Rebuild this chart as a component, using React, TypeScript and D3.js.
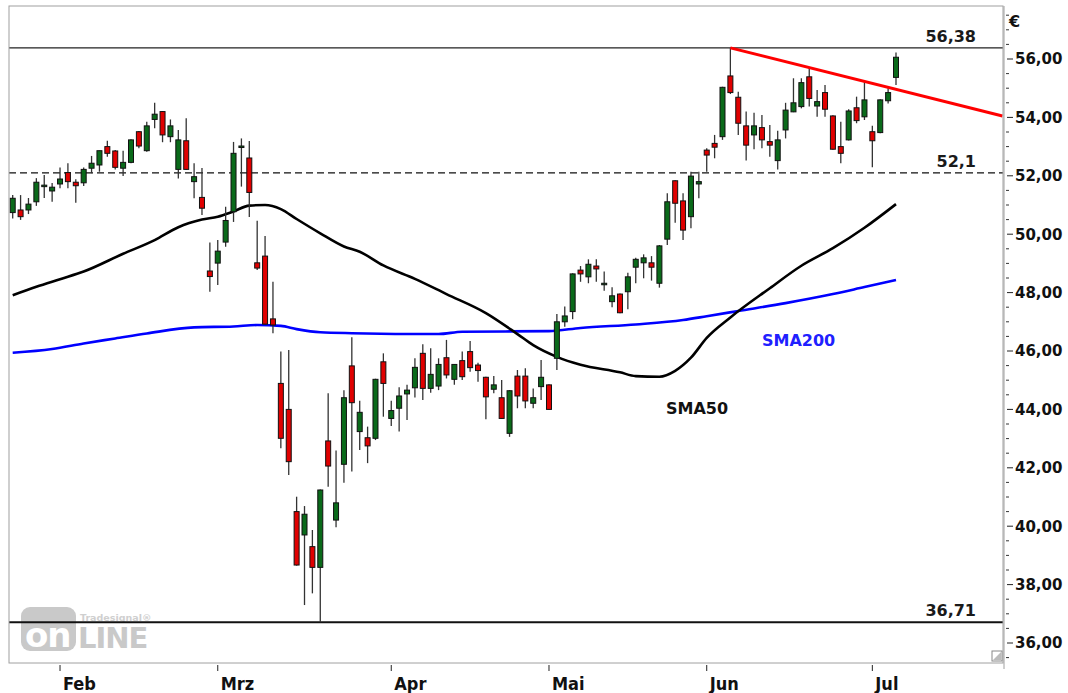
import React from "react";
import * as d3 from "d3";

// ---- Data ----
const opens = [
  50.74, 50.83, 50.83, 51.11, 51.63, 51.48, 51.72, 52.11, 51.78, 51.76,
  52.26, 52.37, 53.0, 52.85, 52.26, 52.46, 53.51, 52.86, 53.93, 54.2,
  53.34, 52.22, 53.2, 51.8, 51.26, 48.74, 49.01, 49.73, 50.77, 52.97,
  52.61, 49.02, 49.25, 47.1, 44.89, 44.0, 40.5, 39.7, 39.3, 38.59,
  42.92, 40.21, 42.12, 45.49, 43.24, 43.03, 43.01, 45.63, 43.69, 44.04,
  44.53, 44.74, 45.92, 44.72, 44.8, 45.77, 45.03, 45.67, 45.98, 45.52,
  45.1, 44.69, 44.4, 43.18, 45.14, 45.14, 44.21, 44.78, 44.84, 45.75,
  47.0, 47.35, 48.77, 48.54, 48.91, 48.28, 47.69, 47.95, 48.03, 48.87,
  49.02, 49.02, 48.32, 49.83, 51.83, 51.14, 50.6, 51.72, 52.88, 53.11,
  53.34, 55.42, 54.69, 53.71, 53.4, 53.65, 53.17, 52.52, 53.57, 54.19,
  54.37, 55.39, 54.39, 54.85, 54.05, 53.0, 53.23, 54.33, 54.02, 53.51,
  53.48, 54.57, 55.37,
];
const highs = [
  51.34, 51.34, 51.24, 51.92, 52.03, 51.75, 52.28, 52.43, 51.88, 52.28,
  52.68, 52.86, 53.2, 52.88, 52.86, 53.25, 53.53, 53.85, 54.5, 54.22,
  53.93, 53.57, 53.97, 52.43, 52.27, 49.72, 49.8, 50.94, 53.16, 53.28,
  53.19, 50.46, 49.94, 48.37, 45.98, 46.03, 41.01, 40.69, 39.87, 41.26,
  44.55, 42.59, 44.66, 46.47, 44.3, 43.41, 45.05, 45.92, 44.3, 44.76,
  44.84, 45.75, 46.23, 46.09, 45.75, 46.38, 45.55, 45.98, 46.34, 45.6,
  45.12, 45.14, 45.01, 44.66, 45.35, 45.41, 44.72, 45.69, 44.86, 47.27,
  47.52, 48.66, 48.91, 49.14, 49.14, 48.72, 48.18, 47.97, 48.68, 49.19,
  49.31, 49.25, 49.63, 51.4, 51.85, 51.4, 52.14, 52.14, 52.94, 53.4,
  55.05, 56.38, 54.88, 54.2, 54.16, 54.08, 53.74, 53.54, 54.5, 55.34,
  55.34, 55.68, 54.94, 55.11, 54.07, 53.85, 54.28, 54.71, 55.22, 53.71,
  54.62, 55.0, 56.22,
];
const lows = [
  50.54, 50.49, 50.69, 50.97, 51.24, 51.11, 51.57, 51.57, 51.08, 51.65,
  52.09, 52.14, 52.65, 52.22, 51.99, 52.43, 52.94, 52.82, 53.63, 53.15,
  53.15, 51.91, 52.2, 51.23, 50.66, 48.03, 48.26, 49.57, 50.42, 51.63,
  50.59, 48.77, 46.89, 46.61, 42.67, 41.75, 38.65, 37.3, 37.7, 36.71,
  41.35, 39.96, 41.49, 41.87, 42.61, 42.16, 42.95, 43.75, 43.43, 43.24,
  43.64, 44.41, 44.32, 44.57, 44.66, 45.06, 44.84, 45.01, 45.29, 44.95,
  43.66, 44.55, 43.67, 43.06, 44.04, 44.04, 44.04, 44.32, 43.98, 45.35,
  46.83, 47.09, 48.37, 48.32, 48.37, 48.06, 47.5, 47.29, 47.43, 48.32,
  48.49, 48.41, 48.17, 49.63, 50.39, 49.8, 50.2, 51.23, 52.14, 52.6,
  53.23, 54.8, 53.4, 52.52, 52.91, 52.94, 52.65, 52.22, 53.28, 54.18,
  54.31, 54.37, 54.02, 54.02, 52.89, 52.43, 53.21, 53.8, 53.91, 52.29,
  53.46, 54.48, 55.11,
];
const closes = [
  51.23, 50.6, 51.03, 51.78, 51.68, 51.61, 51.89, 51.8, 51.66, 52.22,
  52.43, 52.86, 52.77, 52.29, 52.46, 53.23, 53.02, 53.71, 54.11, 53.4,
  53.71, 53.23, 52.22, 51.97, 50.89, 48.55, 49.42, 50.47, 52.77, 53.02,
  51.43, 48.84, 46.92, 46.89, 43.01, 42.21, 38.67, 40.41, 38.59, 41.24,
  42.06, 40.8, 44.4, 44.23, 43.9, 42.75, 45.03, 44.89, 43.96, 44.46,
  44.66, 45.44, 44.72, 45.2, 45.54, 45.18, 45.54, 45.12, 45.43, 45.33,
  44.43, 44.84, 43.69, 44.64, 44.46, 44.29, 44.4, 45.1, 44.0, 47.0,
  47.2, 48.64, 48.64, 48.97, 48.81, 48.32, 47.89, 47.31, 48.54, 49.14,
  49.19, 48.87, 49.6, 51.11, 51.06, 50.14, 51.99, 51.8, 52.71, 52.98,
  55.03, 54.85, 53.8, 53.05, 53.71, 53.23, 53.05, 53.23, 54.25, 54.5,
  55.19, 54.65, 54.54, 54.28, 52.91, 52.77, 54.22, 53.89, 54.6, 53.2,
  54.6, 54.85, 56.06,
];

// Moving averages, read as [candle index, value]
const sma50Points: [number, number][] = [
  [0, 47.91], [3, 48.2], [6, 48.46], [9, 48.72], [14, 49.33], [18, 49.8],
  [21, 50.24], [24, 50.5], [26, 50.6], [28, 50.78], [30, 50.98], [32, 51.0],
  [34, 50.86], [36, 50.52], [39, 50.03], [42, 49.58], [44, 49.4], [47, 48.93],
  [51, 48.47], [55, 47.95], [60, 47.3], [64, 46.58], [66, 46.2], [69, 45.8],
  [72, 45.53], [77, 45.27], [79, 45.14], [82, 45.12], [84, 45.32], [86, 45.77],
  [88, 46.45], [91, 47.15], [96, 48.15], [100, 48.92], [104, 49.52],
  [108, 50.22], [112, 51.03],
];
const sma200Points: [number, number][] = [
  [0, 45.94], [5, 46.07], [9, 46.26], [13, 46.43], [17, 46.6], [23, 46.81],
  [28, 46.84], [31, 46.89], [34, 46.86], [36, 46.75], [39, 46.64], [43, 46.61],
  [54, 46.58], [57, 46.66], [68, 46.68], [72, 46.79], [79, 46.91], [85, 47.06],
  [88, 47.19], [92, 47.37], [98, 47.64], [104, 47.95], [108, 48.19], [112, 48.43],
];

// Trend line anchors [candle index, price]
const trendLine: [number, number][] = [[91, 56.38], [125.5, 54.05]];

// Horizontal levels
const levelHigh = 56.38;
const levelMid = 52.1;
const levelLow = 36.71;

// Month ticks (candle index, label)
const monthTickIdx = [6, 26, 48, 68, 88, 109];
const monthLabels = ["Feb", "Mrz", "Apr", "Mai", "Jun", "Jul"];

const yTickValues = [36, 38, 40, 42, 44, 46, 48, 50, 52, 54, 56];

const W = 1068;
const H = 693;
const plotL = 9;
const plotR = 1003;
const plotT = 6;
const plotB = 663;

const fmt = (v: number, d: number) => v.toFixed(d).replace(".", ",");

export default function App() {
  const x = d3.scaleLinear().domain([0, 112]).range([12.7, 896]);
  const y = d3.scaleLinear().domain([36, 56]).range([643, 59]);

  const line = d3
    .line<[number, number]>()
    .x((d) => x(d[0]))
    .y((d) => y(d[1]))
    .curve(d3.curveMonotoneX);
  const straight = d3
    .line<[number, number]>()
    .x((d) => x(d[0]))
    .y((d) => y(d[1]));

  const minorTicks = d3.range(35.5, 57.76, 0.5).filter((v) => Math.abs(v - Math.round(v / 2) * 2) > 1e-6);

  const bodyW = 5;
  const green = "#0a6a1a";
  const red = "#e00000";
  const labelFont = "'DejaVu Sans', Verdana, sans-serif";
  const narrowFont = "'Liberation Sans Narrow', 'Arial Narrow', 'DejaVu Sans Condensed', sans-serif";

  return (
    <svg
      width={W}
      height={H}
      style={{ position: "absolute", left: 0, top: 0, background: "#fff" }}
    >
      <defs>
        <clipPath id="plotClip">
          <rect x={plotL} y={plotT} width={plotR - plotL} height={plotB - plotT} />
        </clipPath>
      </defs>
      <rect x={0} y={0} width={W} height={H} fill="#fff" />

      {/* watermark logo */}
      <g>
        <rect x={21} y={607} width={55} height={44} rx={9} fill="#c9c9c9" />
        <text x={25} y={647} fontFamily={labelFont} fontWeight="bold" fontSize={34} fill="#ffffff" letterSpacing={-1}>
          on
        </text>
        <text x={78} y={648} fontFamily={labelFont} fontWeight="bold" fontSize={29} fill="#c9c9c9" letterSpacing={-1}>
          LINE
        </text>
        <text x={80} y={621} fontFamily={labelFont} fontWeight="bold" fontSize={9.5} fill="#cfcfcf">
          Tradesignal®
        </text>
      </g>

      <g clipPath="url(#plotClip)">
        {/* level lines */}
        <line x1={plotL} x2={plotR} y1={y(levelHigh)} y2={y(levelHigh)} stroke="#222" strokeWidth={1.2} />
        <line x1={plotL} x2={plotR} y1={y(levelMid)} y2={y(levelMid)} stroke="#111" strokeWidth={1.3} strokeDasharray="7,4" />
        <line x1={plotL} x2={plotR} y1={y(levelLow)} y2={y(levelLow)} stroke="#111" strokeWidth={2.2} />

        {/* moving averages */}
        <path d={line(sma200Points) || ""} fill="none" stroke="#0000ff" strokeWidth={2.6} />
        <path d={line(sma50Points) || ""} fill="none" stroke="#000" strokeWidth={2.6} />

        {/* candles */}
        {opens.map((o, i) => {
          const c = closes[i];
          const cx = x(i);
          const top = y(Math.max(o, c));
          const bot = y(Math.min(o, c));
          const up = c >= o;
          return (
            <g key={i}>
              <line x1={cx} x2={cx} y1={y(highs[i])} y2={y(lows[i])} stroke="#333" strokeWidth={1.3} />
              <rect
                x={cx - bodyW / 2}
                y={top}
                width={bodyW}
                height={Math.max(bot - top, 1.5)}
                fill={up ? green : red}
                stroke="#111"
                strokeWidth={1}
              />
            </g>
          );
        })}

        {/* trend line */}
        <path d={straight(trendLine) || ""} fill="none" stroke="#ff0000" strokeWidth={3} />
      </g>

      {/* level labels */}
      <text x={976} y={y(levelHigh) - 6} textAnchor="end" fontFamily={labelFont} fontWeight="bold" fontSize={16} fill="#1a1a1a">
        {fmt(levelHigh, 2)}
      </text>
      <text x={976} y={y(levelMid) - 6} textAnchor="end" fontFamily={labelFont} fontWeight="bold" fontSize={16} fill="#1a1a1a">
        {fmt(levelMid, 1)}
      </text>
      <text x={976} y={y(levelLow) - 6} textAnchor="end" fontFamily={labelFont} fontWeight="bold" fontSize={16} fill="#1a1a1a">
        {fmt(levelLow, 2)}
      </text>

      {/* MA labels */}
      <text x={762} y={346} fontFamily={labelFont} fontWeight="bold" fontSize={16} fill="#2020ff">
        SMA200
      </text>
      <text x={666} y={414} fontFamily={labelFont} fontWeight="bold" fontSize={16} fill="#111">
        SMA50
      </text>

      {/* plot frame */}
      <rect x={plotL} y={plotT} width={plotR - plotL} height={plotB - plotT} fill="none" stroke="#a0a0a0" strokeWidth={1} />
      <line x1={plotR + 1} x2={plotR + 1} y1={plotT} y2={plotB + 6} stroke="#a0a0a0" strokeWidth={1} />

      {/* resize corner */}
      <rect x={992} y={651} width={10} height={10} fill="#fff" stroke="#888" strokeWidth={1} />
      <path d="M993,660 L1001,652 L1001,660 Z" fill="#bbb" />

      {/* y axis */}
      {minorTicks.map((v) => (
        <line key={"m" + v} x1={plotR + 3} x2={plotR + 6} y1={y(v)} y2={y(v)} stroke="#333" strokeWidth={1} />
      ))}
      {yTickValues.map((v) => (
        <g key={"t" + v}>
          <line x1={plotR + 4} x2={plotR + 10} y1={y(v)} y2={y(v)} stroke="#222" strokeWidth={1} />
          <text x={1015} y={y(v)} dy="0.36em" fontFamily={labelFont} fontWeight="bold" fontSize={15} fill="#111">
            {fmt(v, 2)}
          </text>
        </g>
      ))}
      <text x={1009} y={27} fontFamily={labelFont} fontWeight="bold" fontSize={16} fill="#111">
        €
      </text>

      {/* x axis */}
      {monthTickIdx.map((idx, k) => (
        <g key={"x" + idx}>
          <line x1={x(idx)} x2={x(idx)} y1={plotB + 2} y2={plotB + 8} stroke="#222" strokeWidth={1} />
          <text x={x(idx) + 3} y={690} fontFamily={narrowFont} fontWeight="bold" fontSize={18} fill="#111">
            {monthLabels[k]}
          </text>
        </g>
      ))}
    </svg>
  );
}
